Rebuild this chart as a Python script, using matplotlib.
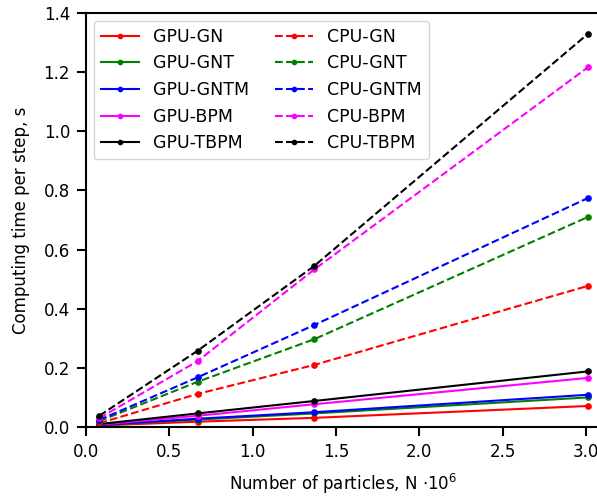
import matplotlib
matplotlib.use("Agg")
import matplotlib.pyplot as plt

x = [0.08, 0.67, 1.37, 3.01]

gpu_gn = [0.005, 0.018, 0.031, 0.071]
gpu_gnt = [0.006, 0.025, 0.046, 0.100]
gpu_gntm = [0.007, 0.028, 0.050, 0.109]
gpu_bpm = [0.008, 0.038, 0.077, 0.166]
gpu_tbpm = [0.010, 0.046, 0.088, 0.188]

cpu_gn = [0.013, 0.112, 0.210, 0.477]
cpu_gnt = [0.020, 0.153, 0.297, 0.710]
cpu_gntm = [0.024, 0.168, 0.345, 0.774]
cpu_bpm = [0.030, 0.223, 0.533, 1.216]
cpu_tbpm = [0.038, 0.258, 0.545, 1.329]

labels = ["GN", "GNT", "GNTM", "BPM", "TBPM"]
colors = ["red", "green", "blue", "magenta", "black"]
gpu = [gpu_gn, gpu_gnt, gpu_gntm, gpu_bpm, gpu_tbpm]
cpu = [cpu_gn, cpu_gnt, cpu_gntm, cpu_bpm, cpu_tbpm]

W, H = 597, 497
fig = plt.figure(figsize=(W / 100, H / 100), dpi=100)
left, right, top, bottom = 86, 601, 13, 427
ax = fig.add_axes([left / W, 1 - bottom / H, (right - left) / W, (bottom - top) / H])

for lab, c, ys in zip(labels, colors, gpu):
    ax.plot(x, ys, '-', color=c, marker='o', markersize=3.8, lw=1.5, label="GPU-" + lab)
for lab, c, ys in zip(labels, colors, cpu):
    ax.plot(x, ys, '--', color=c, marker='o', markersize=3.8, lw=1.5, label="CPU-" + lab)

ax.set_xlim(0, (right - left) / 166.7)
ax.set_ylim(0, 1.4)
ax.set_xticks([0.0, 0.5, 1.0, 1.5, 2.0, 2.5, 3.0])
ax.set_yticks([0.0, 0.2, 0.4, 0.6, 0.8, 1.0, 1.2, 1.4])
ax.tick_params(labelsize=12, length=6.5, width=1.5, pad=5)
for s in ax.spines.values():
    s.set_linewidth(1.5)
ax.set_xlabel(r"Number of particles, N $\cdot 10^6$", fontsize=12, labelpad=8)
ax.set_ylabel("Computing time per step, s", fontsize=12, labelpad=10)
ax.legend(ncol=2, fontsize=12.5, loc="upper left", columnspacing=1.5,
          handlelength=2.2, markerscale=0.8, borderaxespad=0.45)

fig.savefig("out.png", dpi=100)
